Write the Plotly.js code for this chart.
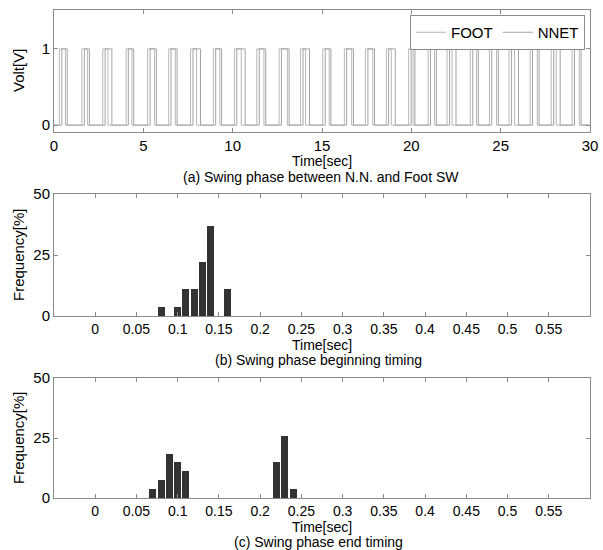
<!DOCTYPE html>
<html>
<head>
<meta charset="utf-8">
<script src="https://cdn.plot.ly/plotly-3.0.1.min.js"></script>
<style>html,body{margin:0;padding:0;background:#fff;}#chart{width:603px;height:550px;}</style>
</head>
<body>
<div id="chart"></div>
<script>
// (a) pulse transition times [sec]
const footOn  = [0.30,1.56,2.73,4.04,5.24,6.42,7.64,8.92,10.10,11.35,12.60,13.80,15.04,16.25,17.43,18.60,19.85,20.94,22.00,23.30,24.37,25.47,26.65,27.83,29.00];
const footOff = [0.64,1.88,3.02,4.36,5.63,6.79,7.98,9.28,10.48,11.75,13.06,14.08,15.40,16.66,17.84,18.88,20.10,21.30,22.28,23.65,24.77,25.78,27.05,28.11,29.40];
const nnetOn  = [0.44,1.70,2.86,4.16,5.38,6.55,7.78,9.05,10.23,11.49,12.73,13.94,15.18,16.38,17.57,18.73,19.99,21.07,22.14,23.44,24.50,25.61,26.78,27.97,29.13];
const nnetOff = [0.74,1.98,3.24,4.46,5.73,6.89,8.20,9.38,10.70,11.85,13.16,14.30,15.50,16.76,17.94,19.10,20.20,21.40,22.50,23.75,24.87,26.00,27.15,28.33,29.50];
const tEnd = 30;

// (b) swing phase beginning timing histogram
const begTime = [0.08,0.10,0.11,0.12,0.13,0.14,0.16];
const begFreq = [3.7,3.7,11.1,11.1,22.2,37.0,11.1];

// (c) swing phase end timing histogram
const endTime = [0.07,0.08,0.09,0.10,0.11,0.22,0.23,0.24];
const endFreq = [3.7,7.4,18.5,14.8,11.1,14.8,25.9,3.7];

const histTicks = [0,0.05,0.1,0.15,0.2,0.25,0.3,0.35,0.4,0.45,0.5,0.55];
const histTickText = ['0','0.05','0.1','0.15','0.2','0.25','0.3','0.35','0.4','0.45','0.5','0.55'];

function stepSeries(on, off){
  const x=[0], y=[0];
  for(let i=0;i<on.length;i++){
    x.push(on[i],on[i],off[i],off[i]);
    y.push(0,1,1,0);
  }
  x.push(tEnd); y.push(0);
  return {x, y};
}
const foot = stepSeries(footOn, footOff);
const nnet = stepSeries(nnetOn, nnetOff);

const FONT = 'Liberation Sans, Arial, sans-serif';
const frame = '#8a8a8a';

const traces = [
  {x: foot.x, y: foot.y, type:'scatter', mode:'lines', name:'FOOT', line:{color:'#b8b8b8', width:1}, xaxis:'x', yaxis:'y'},
  {x: nnet.x, y: nnet.y, type:'scatter', mode:'lines', name:'NNET', line:{color:'#a4a4a4', width:1}, xaxis:'x', yaxis:'y'},
  {x: begTime, y: begFreq, type:'bar', width:0.0085, marker:{color:'#333333', line:{width:0}}, showlegend:false, xaxis:'x2', yaxis:'y2'},
  {x: endTime, y: endFreq, type:'bar', width:0.0085, marker:{color:'#333333', line:{width:0}}, showlegend:false, xaxis:'x3', yaxis:'y3'}
];

const axBase = {
  showline:true, mirror:'ticks', linecolor:frame, linewidth:1,
  ticks:'inside', ticklen:4, tickcolor:frame, showgrid:false, zeroline:false,
  tickfont:{family:FONT, size:15, color:'#000'}, fixedrange:true
};
const histX = {tickfont:{family:FONT, size:14, color:'#000'}};
const xd = [54/603, 590/603];

function note(text, x, y, rot, size){
  const a = {text:text, x:x/603, y:1-y/550, xref:'paper', yref:'paper', showarrow:false,
             xanchor:'center', yanchor:'middle', font:{family:FONT, size:size||15, color:'#000'}};
  if (rot) a.textangle = -90;
  return a;
}

const layout = {
  width:603, height:550,
  margin:{l:0, r:0, t:0, b:0},
  paper_bgcolor:'#fff', plot_bgcolor:'#fff',
  font:{family:FONT, size:15, color:'#000'},
  showlegend:true,
  legend:{orientation:'h', x:585/603, xanchor:'right', y:1-15/550, yanchor:'top',
          bgcolor:'#fff', bordercolor:frame, borderwidth:1, font:{family:FONT, size:15, color:'#000'},
          tracegroupgap:0},
  bargap:0,
  xaxis: Object.assign({}, axBase, {domain:xd, anchor:'y', range:[0,30], tickvals:[0,5,10,15,20,25,30]}),
  yaxis: Object.assign({}, axBase, {domain:[1-132/550, 1-10/550], anchor:'x', range:[-0.09,1.51], tickvals:[0,1]}),
  xaxis2: Object.assign({}, axBase, histX, {domain:xd, anchor:'y2', range:[-0.05,0.6], tickvals:histTicks, ticktext:histTickText}),
  yaxis2: Object.assign({}, axBase, {domain:[1-316/550, 1-194/550], anchor:'x2', range:[0,50], tickvals:[0,25,50]}),
  xaxis3: Object.assign({}, axBase, histX, {domain:xd, anchor:'y3', range:[-0.05,0.6], tickvals:histTicks, ticktext:histTickText}),
  yaxis3: Object.assign({}, axBase, {domain:[1-498/550, 1-378/550], anchor:'x3', range:[0,50], tickvals:[0,25,50]}),
  annotations: [
    note('Volt[V]', 18, 71, true),
    note('Time[sec]', 322, 161, false, 14),
    note('(a) Swing phase between N.N. and Foot SW', 321, 177, false, 14),
    note('Frequency[%]', 18, 255, true),
    note('Time[sec]', 322, 345, false, 14),
    note('(b) Swing phase beginning timing', 318, 360, false, 14),
    note('Frequency[%]', 18, 438, true),
    note('Time[sec]', 322, 527, false, 14),
    note('(c) Swing phase end timing', 318, 542, false, 14)
  ]
};

Plotly.newPlot('chart', traces, layout, {staticPlot:true, displayModeBar:false});
</script>
</body>
</html>
